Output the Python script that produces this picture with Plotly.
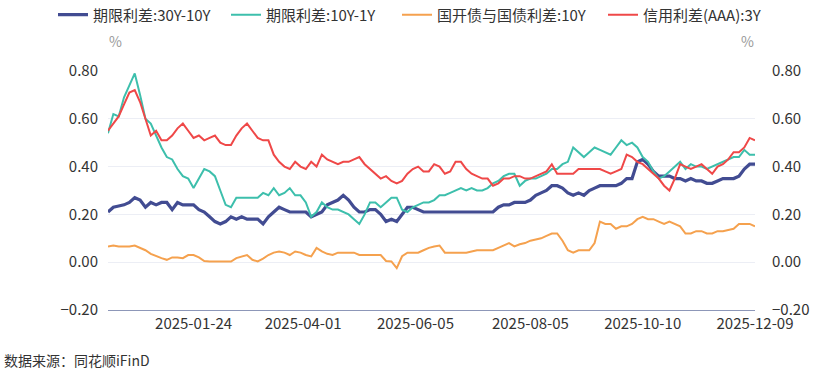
import pandas as pd
import plotly.graph_objects as go

START = "2024-12-09"
END = "2025-12-09"
HOLIDAYS = ["2025-01-01", "2025-01-28", "2025-01-29", "2025-01-30", "2025-01-31",
            "2025-02-03", "2025-02-04", "2025-04-04", "2025-05-01", "2025-05-02",
            "2025-05-05", "2025-06-02", "2025-10-01", "2025-10-02", "2025-10-03",
            "2025-10-06", "2025-10-07", "2025-10-08"]
trade_days = [d.strftime("%Y-%m-%d") for d in pd.bdate_range(START, END)
              if d.strftime("%Y-%m-%d") not in HOLIDAYS]
dates = trade_days[1::2]  # every second trading day, ending on 2025-12-09

TICK_DATES = ["2025-01-24", "2025-04-01", "2025-06-05", "2025-08-05", "2025-10-10", "2025-12-09"]
Y_TICKS = [-0.2, 0.0, 0.2, 0.4, 0.6, 0.8]

names = ["期限利差:30Y-10Y", "期限利差:10Y-1Y", "国开债与国债利差:10Y", "信用利差(AAA):3Y"]

spread_30y_10y = [
    0.21, 0.23, 0.235, 0.24, 0.25, 0.27, 0.26, 0.23, 0.25, 0.24,
    0.25, 0.25, 0.22, 0.25, 0.24, 0.24, 0.24, 0.22, 0.21, 0.19,
    0.17, 0.16, 0.17, 0.19, 0.18, 0.19, 0.18, 0.18, 0.18, 0.16,
    0.19, 0.21, 0.23, 0.22, 0.21, 0.21, 0.21, 0.21, 0.19, 0.20,
    0.21, 0.24, 0.25, 0.26, 0.28, 0.26,
    0.23, 0.21, 0.21, 0.22,
    0.22, 0.20, 0.17, 0.18, 0.17, 0.20, 0.23, 0.23, 0.22, 0.21,
    0.21, 0.21, 0.21, 0.21, 0.21, 0.21, 0.21, 0.21, 0.21, 0.21,
    0.21, 0.21, 0.21, 0.23, 0.24, 0.24, 0.25, 0.25, 0.25, 0.26,
    0.28, 0.29, 0.30, 0.32, 0.32, 0.31, 0.29, 0.28, 0.29,
    0.28,
    0.30, 0.31, 0.32, 0.32, 0.32, 0.32, 0.33, 0.35, 0.35, 0.42,
    0.43, 0.41, 0.38, 0.36, 0.36, 0.36, 0.35, 0.35, 0.34, 0.35,
    0.34, 0.34, 0.33, 0.33, 0.34, 0.35, 0.35, 0.35, 0.36, 0.39,
    0.41, 0.41,
]

spread_10y_1y = [
    0.54, 0.62, 0.61, 0.69, 0.74, 0.79, 0.70, 0.60, 0.58, 0.53,
    0.48, 0.44, 0.43, 0.39, 0.36, 0.35, 0.31, 0.35, 0.39, 0.38,
    0.36, 0.30, 0.24, 0.23, 0.27, 0.27, 0.27, 0.27, 0.27, 0.29,
    0.28, 0.31, 0.28, 0.29, 0.31, 0.28, 0.28, 0.25, 0.19, 0.21,
    0.25, 0.23, 0.22, 0.22, 0.21, 0.20,
    0.18, 0.16, 0.20, 0.25,
    0.25, 0.23, 0.25, 0.27, 0.27, 0.22, 0.21, 0.23, 0.24, 0.25,
    0.25, 0.26, 0.28, 0.28, 0.29, 0.30, 0.31, 0.30, 0.31, 0.30,
    0.30, 0.31, 0.33, 0.34, 0.36, 0.37, 0.37, 0.32, 0.34, 0.35,
    0.35, 0.36, 0.37, 0.39, 0.39, 0.41, 0.42, 0.48, 0.46,
    0.44,
    0.46, 0.48, 0.47, 0.46, 0.45, 0.48, 0.51, 0.49, 0.50, 0.48,
    0.44, 0.42, 0.38, 0.35, 0.36, 0.38, 0.40, 0.42, 0.39, 0.41,
    0.40, 0.40, 0.39, 0.40, 0.41, 0.42, 0.43, 0.44, 0.44, 0.47,
    0.45, 0.45,
]

spread_cdb_10y = [
    0.066, 0.07, 0.066, 0.066, 0.066, 0.07, 0.06, 0.05, 0.035, 0.025,
    0.017, 0.01, 0.02, 0.02, 0.017, 0.03, 0.03, 0.02, 0.005, 0.003,
    0.003, 0.003, 0.003, 0.003, 0.017, 0.024, 0.03, 0.01, 0.003, 0.015,
    0.03, 0.04, 0.045, 0.04, 0.03, 0.045, 0.04, 0.03, 0.024, 0.06,
    0.045, 0.035, 0.03, 0.04, 0.04, 0.04,
    0.04, 0.03, 0.03, 0.03,
    0.03, 0.03, 0.005, 0.003, -0.025, 0.025, 0.04, 0.04, 0.04, 0.05,
    0.06, 0.066, 0.07, 0.04, 0.04, 0.04, 0.04, 0.04, 0.045, 0.05,
    0.05, 0.05, 0.05, 0.06, 0.07, 0.08, 0.066, 0.075, 0.08, 0.09,
    0.095, 0.10, 0.11, 0.12, 0.12, 0.09, 0.05, 0.04, 0.05,
    0.05,
    0.05, 0.08, 0.17, 0.16, 0.16, 0.14, 0.15, 0.15, 0.16, 0.18,
    0.19, 0.18, 0.18, 0.17, 0.16, 0.17, 0.16, 0.15, 0.12, 0.12,
    0.13, 0.13, 0.12, 0.12, 0.13, 0.13, 0.135, 0.14, 0.16, 0.16,
    0.16, 0.15,
]

credit_aaa_3y = [
    0.55, 0.58, 0.61, 0.66, 0.71, 0.72, 0.67, 0.60, 0.53, 0.55,
    0.51, 0.51, 0.53, 0.56, 0.58, 0.55, 0.52, 0.53, 0.51, 0.52,
    0.53, 0.50, 0.49, 0.49, 0.53, 0.56, 0.58, 0.55, 0.52, 0.51,
    0.51, 0.45, 0.42, 0.40, 0.39, 0.42, 0.40, 0.39, 0.42, 0.40,
    0.45, 0.43, 0.42, 0.41, 0.42, 0.42,
    0.43, 0.44, 0.41, 0.39,
    0.37, 0.35, 0.36, 0.34, 0.33, 0.34, 0.37, 0.39, 0.40, 0.38,
    0.38, 0.41, 0.40, 0.37, 0.38, 0.42, 0.42, 0.39, 0.37, 0.36,
    0.35, 0.35, 0.32, 0.33, 0.35, 0.35, 0.36, 0.36, 0.35, 0.35,
    0.36, 0.37, 0.38, 0.41, 0.37, 0.37, 0.37, 0.37, 0.39,
    0.39,
    0.39, 0.39, 0.39, 0.38, 0.37, 0.38, 0.39, 0.45, 0.44, 0.42,
    0.41, 0.39, 0.37, 0.35, 0.32, 0.30, 0.35, 0.41, 0.40, 0.39,
    0.40, 0.41, 0.39, 0.37, 0.40, 0.41, 0.43, 0.46, 0.46, 0.48,
    0.52, 0.51,
]

series = [spread_30y_10y, spread_10y_1y, spread_cdb_10y, credit_aaa_3y]
colors = ["#424c92", "#3dbfac", "#f5a14e", "#ef4848"]
widths = [3.2, 2, 2, 2]
legend_ids = ["legend", "legend2", "legend3", "legend4"]

for s in series:
    assert len(s) == len(dates), (len(s), len(dates))

FONT = "Noto Sans CJK SC, Noto Sans, sans-serif"

fig = go.Figure()
for name, s, c, w, lg in zip(names, series, colors, widths, legend_ids):
    fig.add_trace(go.Scatter(x=dates, y=s, mode="lines", name=name, legend=lg,
                             line=dict(color=c, width=w)))
# invisible trace to activate the right-hand axis
fig.add_trace(go.Scatter(x=dates, y=spread_30y_10y, mode="lines", yaxis="y2",
                         showlegend=False, hoverinfo="skip",
                         line=dict(color="rgba(0,0,0,0)", width=0)))


def legend_at(px):
    return dict(orientation="h", xref="container", yref="container",
                x=px / 830, xanchor="left", y=0.96, yanchor="middle",
                font=dict(size=15, color="#333333", family=FONT), itemwidth=30,
                bgcolor="rgba(0,0,0,0)")


fig.update_layout(
    width=830, height=374,
    margin=dict(l=108, r=75, t=71, b=64, pad=0, autoexpand=False),
    paper_bgcolor="white", plot_bgcolor="white",
    font=dict(family=FONT, size=14, color="#333333"),
    legend=legend_at(53),
    legend2=legend_at(226),
    legend3=legend_at(397),
    legend4=legend_at(603),
    xaxis=dict(type="date", range=[dates[0], dates[-1]],
               rangebreaks=[dict(bounds=["sat", "mon"]), dict(values=HOLIDAYS)],
               tickvals=TICK_DATES, ticktext=TICK_DATES,
               showgrid=False, zeroline=False, ticks="",
               showline=True, linecolor="#8d97b8", linewidth=1,
               tickfont=dict(size=15, color="#333333", family=FONT)),
    yaxis=dict(range=[-0.2, 0.8], tickvals=Y_TICKS, tickformat=".2f",
               showgrid=True, gridcolor="#eceef5", gridwidth=1, zeroline=False,
               ticks="outside", ticklen=6, tickcolor="rgba(0,0,0,0)",
               tickfont=dict(size=15, color="#333333", family=FONT)),
    yaxis2=dict(range=[-0.2, 0.8], tickvals=Y_TICKS, tickformat=".2f",
                overlaying="y", side="right", showgrid=False, zeroline=False,
                ticks="outside", ticklen=13, tickcolor="rgba(0,0,0,0)",
                tickfont=dict(size=15, color="#333333", family=FONT)),
    annotations=[
        dict(text="%", xref="paper", yref="paper", x=0.011, y=1.125,
             xanchor="center", yanchor="middle", showarrow=False,
             font=dict(size=14, color="#999999", family=FONT)),
        dict(text="%", xref="paper", yref="paper", x=0.989, y=1.125,
             xanchor="center", yanchor="middle", showarrow=False,
             font=dict(size=14, color="#999999", family=FONT)),
        dict(text="数据来源：同花顺iFinD", xref="paper", yref="paper", x=-0.164, y=-0.21,
             xanchor="left", yanchor="middle", showarrow=False,
             font=dict(size=14, color="#333333", family=FONT)),
    ],
)

fig.write_html("out.html", config={"displayModeBar": False},
               post_script="document.body.style.margin='0px';")
